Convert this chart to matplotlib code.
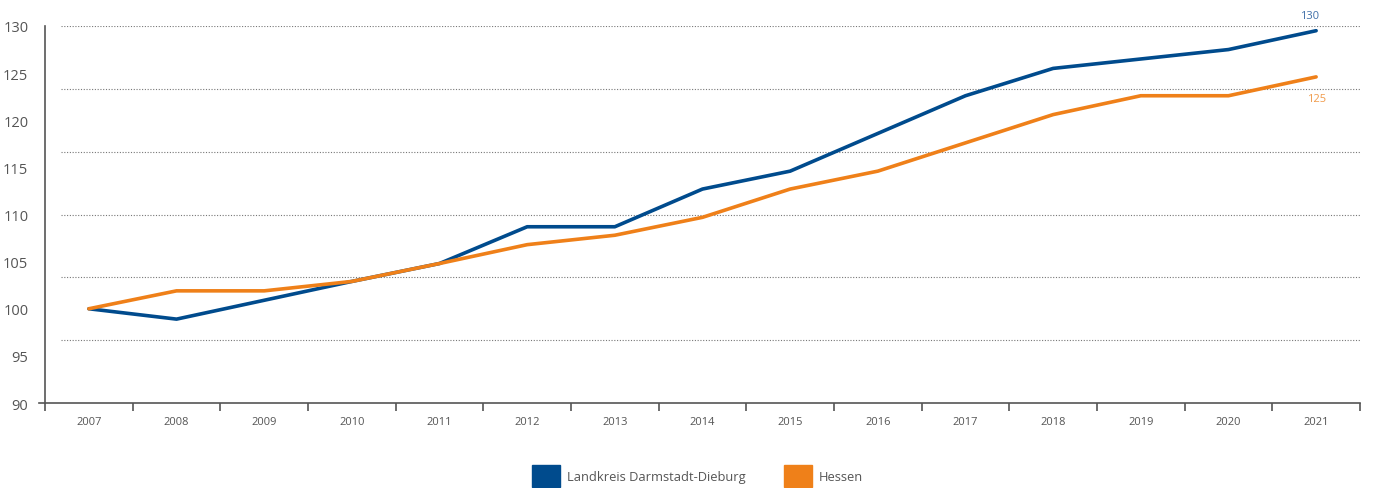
import numpy as np
import matplotlib.pyplot as plt
from matplotlib.patches import Patch

plt.rcParams['font.family'] = ['Open Sans', 'DejaVu Sans']

years = ['2007', '2008', '2009', '2010', '2011', '2012', '2013', '2014',
         '2015', '2016', '2017', '2018', '2019', '2020', '2021']
landkreis = [100, 98.9, 100.9, 102.9, 104.8, 108.7, 108.7, 112.7,
             114.6, 118.6, 122.6, 125.5, 126.5, 127.5, 129.5]
hessen = [100, 101.9, 101.9, 102.9, 104.8, 106.8, 107.8, 109.7,
          112.7, 114.6, 117.6, 120.6, 122.6, 122.6, 124.6]
series_names = ['Landkreis Darmstadt-Dieburg', 'Hessen']
end_labels = ['130', '125']

blue = '#004b8d'
orange = '#ef8019'
grey = '#555555'

fig = plt.figure(figsize=(13.73, 4.89), dpi=100)
ax = fig.add_axes([0.0328, 0.1738, 0.9577, 0.771])

x = np.arange(len(years))
ax.plot(x, landkreis, color=blue, lw=2.6, solid_capstyle='round', zorder=3)
ax.plot(x, hessen, color=orange, lw=2.6, solid_capstyle='round', zorder=3)

ax.set_xlim(-0.5, len(years) - 0.5)
ax.set_ylim(90, 130)

# dotted grid, 6 equal steps between 90 and 130
for g in np.linspace(90, 130, 7)[1:]:
    ax.axhline(g, xmin=0.012, xmax=1.0, color='#777777', lw=0.8,
               ls=(0, (1, 1.5)), zorder=1)

ax.set_yticks(np.arange(90, 131, 5))
ax.tick_params(axis='y', length=0, pad=12, labelsize=10.5, labelcolor=grey)
ax.set_xticks(x)
ax.set_xticklabels(years)
ax.tick_params(axis='x', length=0, pad=9, labelsize=8, labelcolor=grey)
ax.set_xticks(np.arange(-0.5, len(years), 1), minor=True)
ax.tick_params(axis='x', which='minor', length=6, width=1.2, color='#555555')

for s in ['top', 'right']:
    ax.spines[s].set_visible(False)
ax.spines['left'].set_color('#555555')
ax.spines['bottom'].set_color('#555555')
ax.spines['left'].set_linewidth(1.2)
ax.spines['bottom'].set_linewidth(1.2)
ax.spines['bottom'].set_bounds(-0.57, len(years) - 0.5)

ax.annotate(end_labels[0], (x[-1], landkreis[-1]), xytext=(-5, 9),
            textcoords='offset points', color='#3f6fa8', fontsize=8, ha='center')
ax.annotate(end_labels[1], (x[-1], hessen[-1]), xytext=(0, -17),
            textcoords='offset points', color='#f09a4a', fontsize=8, ha='center')

handles = [Patch(color=blue), Patch(color=orange)]
fig.legend(handles, series_names, loc='lower center', bbox_to_anchor=(0.508, -0.012),
           ncol=2, frameon=False, handlelength=2.15, handleheight=2.2,
           handletextpad=0.55, columnspacing=3.0, fontsize=9.3, labelcolor=grey,
           borderpad=0.05)

fig.savefig('out.png', dpi=100)
